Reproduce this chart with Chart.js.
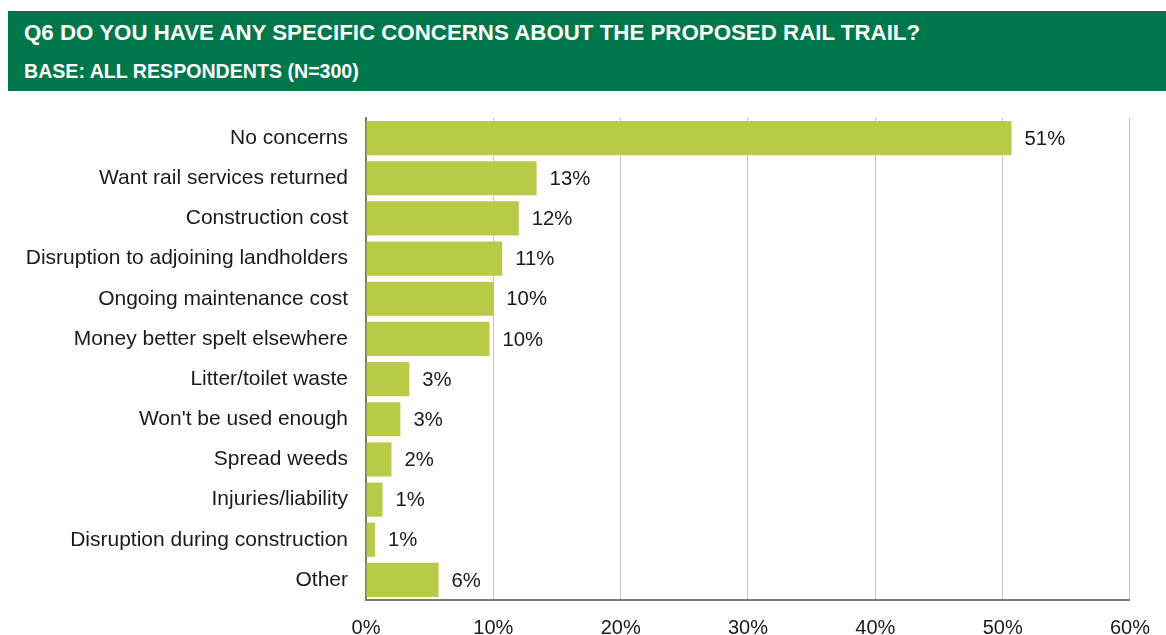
<!DOCTYPE html>
<html>
<head>
<meta charset="utf-8">
<title>Q6 concerns about the proposed rail trail</title>
<script src="https://cdn.jsdelivr.net/npm/chart.js@4/dist/chart.umd.min.js"></script>
<style>
  html, body { margin: 0; padding: 0; background: #fff; }
  #wrap { position: relative; width: 1166px; height: 635px; overflow: hidden; }
  #heading {
    position: absolute; left: 8px; top: 11px; width: 1158px; height: 80px;
    background: #00774b; color: #fff;
    font-family: "Liberation Sans", Arial, sans-serif; font-weight: bold;
  }
  #heading div { position: absolute; left: 16px; height: 30px; line-height: 30px; white-space: nowrap; }
  #q { top: 7px; font-size: 22.3px; }
  #base { top: 44.5px; font-size: 19.6px; }
  canvas { position: absolute; left: 0; top: 0; }
</style>
</head>
<body>
<div id="wrap">
  <canvas id="chart" width="1166" height="635"></canvas>
  <div id="heading">
    <div id="q">Q6 DO YOU HAVE ANY SPECIFIC CONCERNS ABOUT THE PROPOSED RAIL TRAIL?</div>
    <div id="base">BASE: ALL RESPONDENTS (N=300)</div>
  </div>
</div>
<script>
const categories = [
  "No concerns",
  "Want rail services returned",
  "Construction cost",
  "Disruption to adjoining landholders",
  "Ongoing maintenance cost",
  "Money better spelt elsewhere",
  "Litter/toilet waste",
  "Won't be used enough",
  "Spread weeds",
  "Injuries/liability",
  "Disruption during construction",
  "Other",
];

// share of respondents, %
const shares = [50.7, 13.4, 12.0, 10.7, 10.0, 9.7, 3.4, 2.7, 2.0, 1.3, 0.7, 5.7];

const axisTicks = [0, 10, 20, 30, 40, 50, 60];

const FONT = "'Liberation Sans', Arial, sans-serif";
const BAR_COLOR = "#b9cb46";

// writes the rounded percentage just past the end of each bar
const valueLabels = {
  id: "valueLabels",
  afterDatasetsDraw(chart) {
    const ctx = chart.ctx;
    const meta = chart.getDatasetMeta(0);
    ctx.save();
    ctx.font = "20.3px " + FONT;
    ctx.fillStyle = "#1a1a1a";
    ctx.textAlign = "left";
    ctx.textBaseline = "middle";
    meta.data.forEach((bar, i) => {
      ctx.fillText(Math.round(shares[i]) + "%", bar.x + 13, bar.y + 1);
    });
    ctx.restore();
  },
};

new Chart(document.getElementById("chart"), {
  type: "bar",
  data: {
    labels: categories,
    datasets: [{
      data: shares,
      backgroundColor: BAR_COLOR,
      categoryPercentage: 1,
      barPercentage: 0.85,
    }],
  },
  options: {
    indexAxis: "y",
    responsive: false,
    animation: false,
    events: [],
    layout: { padding: { top: 118, right: 36, left: 0, bottom: 0 } },
    plugins: {
      legend: { display: false },
      tooltip: { enabled: false },
    },
    scales: {
      x: {
        min: 0,
        max: 60,
        afterBuildTicks: (scale) => {
          scale.ticks = axisTicks.map((v) => ({ value: v }));
        },
        afterFit: (scale) => { scale.height = 35; },
        grid: { color: "#c4c4c4", lineWidth: 1, drawTicks: false },
        border: { color: "#7a7a7a", width: 2 },
        ticks: {
          padding: 16,
          color: "#1a1a1a",
          font: { family: FONT, size: 20 },
          callback: (v) => v + "%",
        },
      },
      y: {
        afterFit: (scale) => { scale.width = 366; },
        grid: { display: false, drawTicks: false },
        border: { color: "#7a7a7a", width: 2 },
        ticks: {
          padding: 18,
          color: "#1a1a1a",
          font: { family: FONT, size: 21 },
        },
      },
    },
  },
  plugins: [valueLabels],
});
</script>
</body>
</html>
